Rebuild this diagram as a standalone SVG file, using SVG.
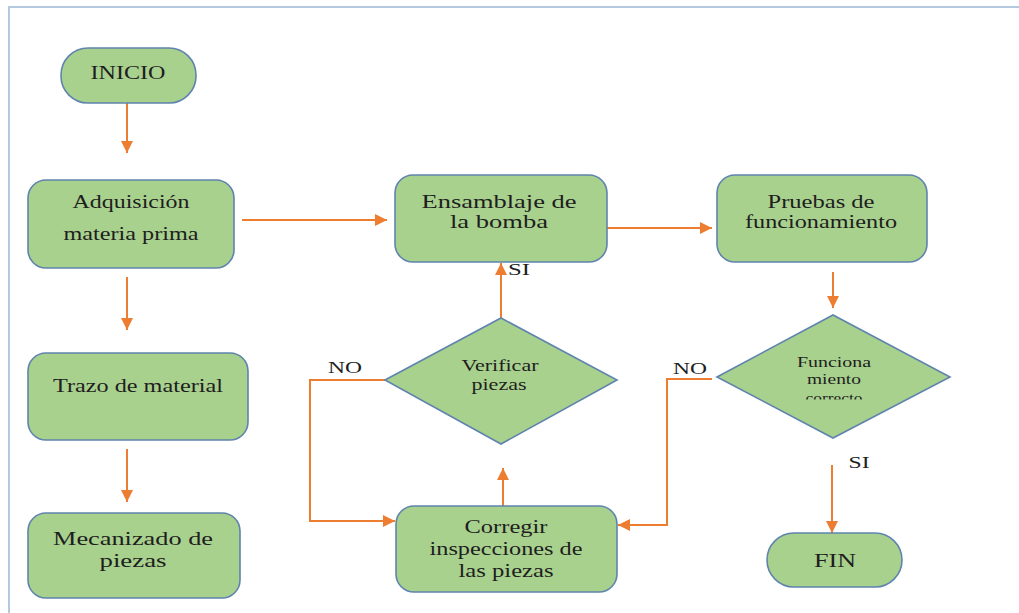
<svg xmlns="http://www.w3.org/2000/svg" width="1019" height="613" viewBox="0 0 1019 613">
  <style>
    .box { fill: #a9d18e; stroke: #5f84ad; stroke-width: 1.6; }
    .edge { fill: none; stroke: #ed7d31; stroke-width: 2; }
    text { font-family: 'Liberation Serif', 'DejaVu Serif', 'Times New Roman', serif; fill: #1e1e1e; text-anchor: middle; }
    .s19 { font-size: 19px; }
    .s18 { font-size: 18px; }
    .s17 { font-size: 17px; }
    .s16 { font-size: 16px; }
    .s15 { font-size: 15px; }
    .frame { fill: none; stroke: #b4c8e0; stroke-width: 2; }
  </style>
  <defs>
    <marker id="arrow" viewBox="0 0 12 12" refX="12" refY="6" markerWidth="12" markerHeight="12" markerUnits="userSpaceOnUse" orient="auto">
      <path d="M0,0 L12,6 L0,12 Z" fill="#ed7d31"/>
    </marker>
    <clipPath id="diamondClip">
      <rect x="700" y="300" width="270" height="99.5"/>
    </clipPath>
  </defs>

  <rect width="1019" height="613" fill="#ffffff"/>
  <!-- page frame -->
  <path class="frame" d="M9,613 L9,7 L1019,7"/>

  <!-- connectors -->
  <g id="connectors">
    <line class="edge" x1="127" y1="103" x2="127" y2="153" marker-end="url(#arrow)"/>
    <line class="edge" x1="127" y1="277" x2="127" y2="330" marker-end="url(#arrow)"/>
    <line class="edge" x1="127" y1="449" x2="127" y2="502" marker-end="url(#arrow)"/>
    <line class="edge" x1="242" y1="220" x2="387" y2="220" marker-end="url(#arrow)"/>
    <line class="edge" x1="607" y1="228" x2="712" y2="228" marker-end="url(#arrow)"/>
    <line class="edge" x1="833" y1="272" x2="833" y2="308" marker-end="url(#arrow)"/>
    <line class="edge" x1="832" y1="465" x2="832" y2="533" marker-end="url(#arrow)"/>
    <polyline class="edge" points="712,379 667,379 667,525 618,525" marker-end="url(#arrow)"/>
    <polyline class="edge" points="385,380 310,380 310,521 395,521" marker-end="url(#arrow)"/>
    <line class="edge" x1="503" y1="506" x2="503" y2="468" marker-end="url(#arrow)"/>
    <line class="edge" x1="501" y1="318" x2="501" y2="263" marker-end="url(#arrow)"/>
  </g>

  <!-- branch labels -->
  <g id="labels">
    <text class="s17" x="345" y="373" textLength="34" lengthAdjust="spacingAndGlyphs">NO</text>
    <text class="s17" x="690" y="374" textLength="34" lengthAdjust="spacingAndGlyphs">NO</text>
    <text class="s17" x="519" y="275" textLength="22" lengthAdjust="spacingAndGlyphs">SI</text>
    <text class="s17" x="859" y="468" textLength="21" lengthAdjust="spacingAndGlyphs">SI</text>
  </g>

  <g id="inicio">
    <rect class="box" x="61" y="48" width="135" height="55" rx="27"/>
    <text class="s18" x="128" y="79" textLength="75" lengthAdjust="spacingAndGlyphs">INICIO</text>
  </g>

  <g id="adquisicion">
    <rect class="box" x="28" y="180" width="206" height="88" rx="18"/>
    <text class="s18" x="131" y="208" textLength="117" lengthAdjust="spacingAndGlyphs">Adquisición</text>
    <text class="s18" x="131" y="240" textLength="135" lengthAdjust="spacingAndGlyphs">materia prima</text>
  </g>

  <g id="trazo">
    <rect class="box" x="28" y="353" width="220" height="87" rx="18"/>
    <text class="s18" x="138" y="392" textLength="170" lengthAdjust="spacingAndGlyphs">Trazo de material</text>
  </g>

  <g id="mecanizado">
    <rect class="box" x="28" y="513" width="212" height="85" rx="18"/>
    <text class="s19" x="133" y="545" textLength="160" lengthAdjust="spacingAndGlyphs">Mecanizado de</text>
    <text class="s19" x="133" y="567" textLength="67" lengthAdjust="spacingAndGlyphs">piezas</text>
  </g>

  <g id="ensamblaje">
    <rect class="box" x="395" y="175" width="212" height="87" rx="18"/>
    <text class="s19" x="499" y="208" textLength="155" lengthAdjust="spacingAndGlyphs">Ensamblaje de</text>
    <text class="s19" x="499" y="228" textLength="98" lengthAdjust="spacingAndGlyphs">la bomba</text>
  </g>

  <g id="pruebas">
    <rect class="box" x="717" y="175" width="210" height="87" rx="18"/>
    <text class="s19" x="821" y="208" textLength="107" lengthAdjust="spacingAndGlyphs">Pruebas de</text>
    <text class="s19" x="821" y="228" textLength="152" lengthAdjust="spacingAndGlyphs">funcionamiento</text>
  </g>

  <g id="verificar">
    <polygon class="box" points="385,380 501,318 617,380 501,444"/>
    <text class="s16" x="500" y="371" textLength="77" lengthAdjust="spacingAndGlyphs">Verificar</text>
    <text class="s16" x="499" y="390" textLength="55" lengthAdjust="spacingAndGlyphs">piezas</text>
  </g>

  <g id="funcionamiento">
    <polygon class="box" points="717,377 833,315 950,377 833,438"/>
    <text class="s15" x="834" y="367" textLength="74" lengthAdjust="spacingAndGlyphs">Funciona</text>
    <text class="s15" x="834" y="384" textLength="54" lengthAdjust="spacingAndGlyphs">miento</text>
    <text class="s15" x="834" y="403" textLength="57" lengthAdjust="spacingAndGlyphs" clip-path="url(#diamondClip)">correcto</text>
  </g>

  <g id="corregir">
    <rect class="box" x="396" y="506" width="221" height="86" rx="18"/>
    <text class="s19" x="506" y="533" textLength="83" lengthAdjust="spacingAndGlyphs">Corregir</text>
    <text class="s19" x="506" y="555" textLength="153" lengthAdjust="spacingAndGlyphs">inspecciones de</text>
    <text class="s19" x="506" y="577" textLength="95" lengthAdjust="spacingAndGlyphs">las piezas</text>
  </g>

  <g id="fin">
    <rect class="box" x="767" y="533" width="135" height="54" rx="27"/>
    <text class="s19" x="835" y="567" textLength="42" lengthAdjust="spacingAndGlyphs">FIN</text>
  </g>
</svg>
